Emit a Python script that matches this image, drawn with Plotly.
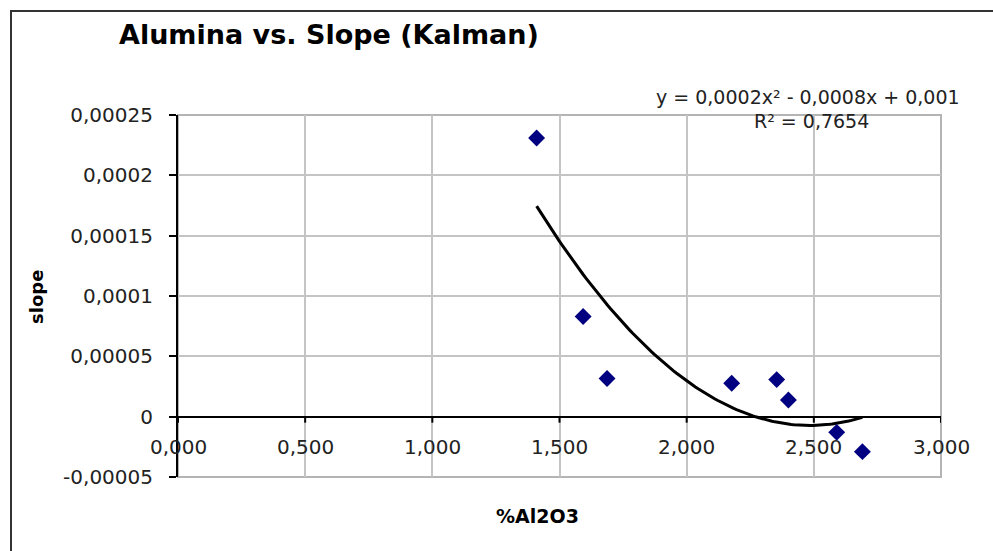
import numpy as np
import plotly.graph_objects as go

# ---- data ----
alumina = [1.41, 1.593, 1.687, 2.177, 2.354, 2.400, 2.590, 2.691]
slope = [0.000231, 0.0000830, 0.0000316, 0.0000277, 0.0000307, 0.0000138, -0.0000130, -0.0000290]

y_tickvals = [-0.00005, 0, 0.00005, 0.0001, 0.00015, 0.0002, 0.00025]
y_ticktext = ["-0,00005", "0", "0,00005", "0,0001", "0,00015", "0,0002", "0,00025"]
x_tickvals = [0, 0.5, 1.0, 1.5, 2.0, 2.5, 3.0]
x_ticktext = ["0,000", "0,500", "1,000", "1,500", "2,000", "2,500", "3,000"]

title_text = "Alumina vs. Slope (Kalman)"
eq_text = "y = 0,0002x² - 0,0008x + 0,001"
r2_text = "R² = 0,7654"

# ---- layout geometry ----
W, H = 993, 551
L, R, T, B = 178, 52, 115, 74
PW, PH = W - L - R, H - T - B


def px_x(px):
    return (px - L) / PW


def px_y(py):
    return (H - B - py) / PH


FONT = "DejaVu Sans"

# quadratic trendline fitted from the data
coef = np.polyfit(alumina, slope, 2)
xs = np.linspace(min(alumina), max(alumina), 120)
ys = np.polyval(coef, xs)

fig = go.Figure()
fig.add_trace(go.Scatter(x=xs, y=ys, mode="lines",
                         line=dict(color="black", width=3), hoverinfo="skip",
                         showlegend=False))
fig.add_trace(go.Scatter(x=alumina, y=slope, mode="markers",
                         marker=dict(symbol="diamond", size=13, color="#000080",
                                     line=dict(width=0)),
                         showlegend=False))

shapes = []
# outer chart border
shapes.append(dict(type="rect", xref="paper", yref="paper",
                   x0=px_x(11), x1=px_x(1200), y0=px_y(800), y1=px_y(11),
                   line=dict(color="#333333", width=2), fillcolor="rgba(0,0,0,0)",
                   layer="below"))
# plot area border (gray)
shapes.append(dict(type="rect", xref="paper", yref="paper", x0=0, x1=1, y0=0, y1=1,
                   line=dict(color="#b4b4b4", width=2), fillcolor="rgba(0,0,0,0)",
                   layer="below"))
# x-axis tick marks on the zero line
for v in x_tickvals:
    shapes.append(dict(type="line", xref="x", yref="y", x0=v, x1=v,
                       ysizemode="pixel", yanchor=0, y0=0, y1=-6,
                       line=dict(color="black", width=2)))

annotations = []
for v, t in zip(x_tickvals, x_ticktext):
    annotations.append(dict(x=v, y=0, xref="x", yref="y", text=t, showarrow=False,
                            xanchor="center", yanchor="middle", yshift=-30,
                            font=dict(family=FONT, size=20, color="#222222")))
annotations.append(dict(x=px_x(117), y=px_y(35), xref="paper", yref="paper",
                        text="<b>" + title_text + "</b>", showarrow=False,
                        xanchor="left", yanchor="middle",
                        font=dict(family=FONT, size=27, color="black")))
annotations.append(dict(x=px_x(537), y=px_y(516), xref="paper", yref="paper",
                        text="<b>%Al2O3</b>", showarrow=False,
                        xanchor="center", yanchor="middle",
                        font=dict(family=FONT, size=19, color="black")))
annotations.append(dict(x=px_x(36), y=px_y(297), xref="paper", yref="paper",
                        text="<b>slope</b>", showarrow=False, textangle=-90,
                        xanchor="center", yanchor="middle",
                        font=dict(family=FONT, size=18, color="black")))
annotations.append(dict(x=px_x(808), y=px_y(97), xref="paper", yref="paper",
                        text=eq_text, showarrow=False,
                        xanchor="center", yanchor="middle",
                        font=dict(family=FONT, size=19, color="#222222")))
annotations.append(dict(x=px_x(811), y=px_y(121), xref="paper", yref="paper",
                        text=r2_text, showarrow=False,
                        xanchor="center", yanchor="middle",
                        font=dict(family=FONT, size=19, color="#222222")))

fig.update_layout(
    width=W, height=H,
    margin=dict(l=L, r=R, t=T, b=B),
    paper_bgcolor="white", plot_bgcolor="white",
    font=dict(family=FONT, color="#222222"),
    showlegend=False,
    shapes=shapes,
    annotations=annotations,
    xaxis=dict(range=[0, 3], tickvals=x_tickvals, showticklabels=False,
               showgrid=True, gridcolor="#c4c4c4", gridwidth=2,
               zeroline=False, showline=False, ticks=""),
    yaxis=dict(range=[-0.00005, 0.00025], tickvals=y_tickvals, ticktext=y_ticktext,
               showgrid=True, gridcolor="#c4c4c4", gridwidth=2,
               zeroline=True, zerolinecolor="black", zerolinewidth=2,
               showline=True, linecolor="black", linewidth=2,
               ticks="outside", ticklen=7, tickwidth=2, tickcolor="black",
               ticklabelstandoff=12,
               tickfont=dict(family=FONT, size=20, color="#222222")),
)

fig.write_html("out.html", config={"displayModeBar": False},
               post_script="document.body.style.margin='0';document.body.style.overflow='hidden';")
